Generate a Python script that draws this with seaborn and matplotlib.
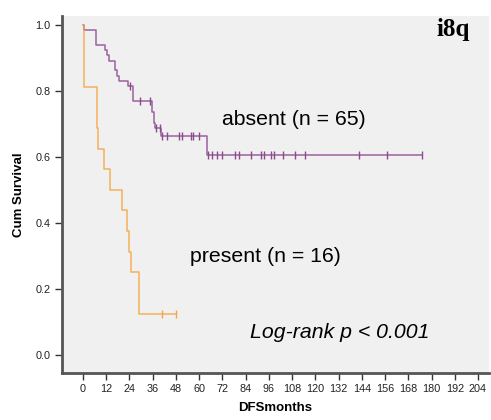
import pandas as pd
import seaborn as sns
import matplotlib.pyplot as plt

# step curves (months, cumulative survival)
absent_times = [0, 0.5, 6.7, 11.5, 12.5, 13.4, 16.7, 17.6, 18.6, 23.0, 25.6,
                35.8, 36.5, 37.3, 40.1, 63.8]
absent_surv = [1.0, 0.985, 0.938, 0.923, 0.908, 0.892, 0.862, 0.846, 0.831,
               0.815, 0.768, 0.735, 0.702, 0.687, 0.664, 0.606]
absent_censored = [24.3, 29.4, 34.6, 37.7, 39.6, 40.8, 43.4, 49.6, 51.0, 56.0,
                   57.0, 60.0, 64.5, 66.5, 69.0, 71.6, 78.5, 80.5, 87.0, 92.0,
                   93.5, 97.0, 98.5, 103.5, 109.5, 114.5, 142.6, 157.0, 175.0]

present_times = [0, 0.4, 7.1, 7.6, 10.8, 14.0, 20.0, 22.7, 24.0, 24.8, 28.9]
present_surv = [1.0, 0.8125, 0.6875, 0.625, 0.5625, 0.5, 0.4375, 0.375,
                0.3125, 0.25, 0.125]
present_censored = [40.6, 47.9]

x_ticks = list(range(0, 205, 12))
y_ticks = [0.0, 0.2, 0.4, 0.6, 0.8, 1.0]

PURPLE = '#8e4a91'
ORANGE = '#f4a640'


def survival_at(times, surv, t):
    value = surv[0]
    for (ti, si) in zip(times, surv):
        if ti <= t:
            value = si
    return value


def curve(times, surv, censored, group):
    end = max(censored)
    line = pd.DataFrame({'months': times + [end],
                         'surv': surv + [surv[-1]],
                         'group': group})
    marks = pd.DataFrame({'months': censored,
                          'surv': [survival_at(times, surv, c) for c in censored],
                          'group': group})
    return line, marks


sns.set_style('white', {'axes.facecolor': '#f0f0f0', 'text.color': 'black',
                        'axes.labelcolor': 'black'})
plt.rcParams['font.family'] = ['Liberation Sans', 'DejaVu Sans']

fig = plt.figure(figsize=(4.91, 4.20), dpi=100)
ax = fig.add_axes([0.126, 0.112, 0.870, 0.850])

palette = {'absent': PURPLE, 'present': ORANGE}
pieces = [curve(absent_times, absent_surv, absent_censored, 'absent'),
          curve(present_times, present_surv, present_censored, 'present')]

for (line, marks) in pieces:
    g = line['group'].iloc[0]
    sns.lineplot(data=line, x='months', y='surv', ax=ax, color=palette[g],
                 drawstyle='steps-post', estimator=None, sort=False,
                 linewidth=1.1, alpha=0.85, legend=False)
    sns.scatterplot(data=marks, x='months', y='surv', ax=ax,
                    color=palette[g], marker='|', s=36, linewidth=1.0,
                    legend=False, zorder=3)

ax.set_xlim(-10.9, 209.7)
ax.set_ylim(-0.055, 1.027)
ax.set_xticks(x_ticks)
ax.set_yticks(y_ticks)
ax.set_yticklabels([f'{v:.1f}' for v in y_ticks])
ax.tick_params(axis='both', which='major', direction='out', length=5,
               width=1, color='#333333', labelsize=7.8, labelcolor='#222222',
               left=True, bottom=True, pad=3)

for side in ('top', 'right'):
    ax.spines[side].set_visible(False)
for side in ('left', 'bottom'):
    ax.spines[side].set_color('#555555')
    ax.spines[side].set_linewidth(2)

ax.set_xlabel('DFSmonths', fontsize=9.5, fontweight='bold', labelpad=6)
ax.set_ylabel('Cum Survival', fontsize=9.5, fontweight='bold', labelpad=8)

ax.text(109, 0.712, 'absent (n = 65)', fontsize=15.3, ha='center',
        va='center')
ax.text(94, 0.297, 'present (n = 16)', fontsize=15.3, ha='center',
        va='center')
ax.text(132.7, 0.067, 'Log-rank p < 0.001', fontsize=15.3, style='italic',
        ha='center', va='center')
ax.text(200, 0.985, 'i8q', fontsize=18, fontweight='bold', ha='right',
        va='center', family='Liberation Serif')

fig.savefig('out.png', dpi=100)
